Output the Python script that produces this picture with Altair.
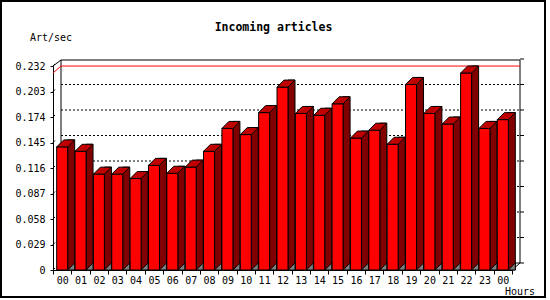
import json
import altair as alt
import pandas as pd

# ---- data ----
HOURS = ["00", "01", "02", "03", "04", "05", "06", "07", "08", "09", "10", "11",
         "12", "13", "14", "15", "16", "17", "18", "19", "20", "21", "22", "23", "00"]
VALUES = [0.140, 0.135, 0.109, 0.109, 0.104, 0.119, 0.110, 0.117, 0.135, 0.161,
          0.154, 0.179, 0.208, 0.178, 0.176, 0.189, 0.150, 0.159, 0.143, 0.211,
          0.178, 0.166, 0.224, 0.161, 0.171]
Y_TICKS = [0, 0.029, 0.058, 0.087, 0.116, 0.145, 0.174, 0.203, 0.232]
Y_MAX = 0.232
TITLE = "Incoming articles"
Y_LABEL = "Art/sec"
X_LABEL = "Hours"

FONT = "DejaVu Sans Mono"
W, H = 459, 204
PAD = {"left": 53, "top": 66, "right": 550 - 53 - W, "bottom": 300 - 66 - H}

bars = pd.DataFrame({"i": list(range(len(VALUES))), "value": VALUES})
ticks = pd.DataFrame({"v": Y_TICKS})
inner_ticks = pd.DataFrame({"v": Y_TICKS[1:-1]})
one = pd.DataFrame({"t": [""]})

xscale = alt.Scale(type="band", paddingInner=0, paddingOuter=0)
yscale = alt.Scale(domain=[0, Y_MAX], nice=False, zero=True)

X_AXIS = alt.Axis(
    title=None, labelExpr=json.dumps(HOURS) + "[datum.value]", tickBand="extent",
    tickSize=4, labelPadding=1, labelAngle=0, domainColor="black", tickColor="black",
    labelColor="black", labelFont=FONT, labelFontSize=10)
Y_AXIS = alt.Axis(
    title=None, values=Y_TICKS,
    labelExpr="datum.value == 0 ? '0' : format(datum.value, '.3f')",
    tickSize=3, labelPadding=5, grid=False, domainColor="black", tickColor="black",
    labelColor="black", labelFont=FONT, labelFontSize=10)


def X():
    return alt.X("i:O", scale=xscale, axis=X_AXIS)


def Y(field):
    return alt.Y(field, scale=yscale, axis=Y_AXIS, stack=None)


# back wall outline
wall = alt.Chart(one).mark_rect(fillOpacity=0, stroke="black", strokeWidth=1).encode(
    x=alt.value(8), x2=alt.value(467), y=alt.value(-6), y2=alt.value(197))

# dotted gridlines on the back wall
grid = alt.Chart(inner_ticks).mark_rule(color="black", strokeDash=[2, 2], yOffset=-7).encode(
    y=Y("v:Q"), x=alt.value(8), x2=alt.value(467))

# small ticks on right side of back wall
rticks = alt.Chart(ticks).mark_rule(color="black", yOffset=-7).encode(
    y=Y("v:Q"), x=alt.value(467), x2=alt.value(471))

# depth ticks at left axis
lticks = alt.Chart(ticks).mark_rule(color="black", y2Offset=-2).encode(
    y=Y("v:Q"), y2="v:Q", x=alt.value(0), x2=alt.value(2))

# max line
red = alt.Chart(bars).transform_aggregate(vmax="max(value)").mark_rule(
    color="#FF0000", yOffset=-7).encode(
    y=Y("vmax:Q"), x=alt.value(8), x2=alt.value(467))
red_diag = alt.Chart(bars).transform_aggregate(vmax="max(value)").mark_rule(
    color="#FF0000", y2Offset=-7).encode(
    y=Y("vmax:Q"), y2="vmax:Q", x=alt.value(0), x2=alt.value(8))

# corner diagonals
diag_tl = alt.Chart(one).mark_rule(color="black").encode(
    x=alt.value(0), x2=alt.value(8), y=alt.value(0), y2=alt.value(-6))
diag_br = alt.Chart(one).mark_rule(color="black").encode(
    x=alt.value(W), x2=alt.value(467), y=alt.value(H), y2=alt.value(197))

# 3D bars
side = alt.Chart(bars).mark_bar(width=7, xOffset=9, yOffset=-7, y2Offset=0,
                                color="#800000", stroke="black", strokeWidth=1).encode(
    x=X(), y=Y("value:Q"))

front = alt.Chart(bars).mark_bar(width=11, color="#FF0000", stroke="black", strokeWidth=1).encode(
    x=X(), y=Y("value:Q"))

top = alt.Chart(bars).mark_point(
    shape="M -5.5 0 L 5.5 0 L 12.5 -7 L 1.5 -7 Z", size=4, filled=True,
    fill="#C00000", stroke="black", strokeWidth=1, opacity=1).encode(x=X(), y=Y("value:Q"))

floor = alt.Chart(bars).transform_calculate(base="0").mark_point(
    shape="M 5.5 0 L 12.5 -7 L 12.5 0 Z", size=4, filled=True,
    fill="#808080", stroke="black", strokeWidth=1, opacity=1).encode(
    x=X(), y=Y("base:Q"))

# texts
title = alt.Chart(pd.DataFrame({"t": [TITLE]})).mark_text(
    font=FONT, fontSize=11.5, fontWeight="bold", align="center", baseline="alphabetic",
    color="black").encode(text="t:N", x=alt.value(220.5), y=alt.value(-35))
ylab = alt.Chart(pd.DataFrame({"t": [Y_LABEL]})).mark_text(
    font=FONT, fontSize=10, align="left", baseline="alphabetic", color="black").encode(
    text="t:N", x=alt.value(-23), y=alt.value(-25))
xlab = alt.Chart(pd.DataFrame({"t": [X_LABEL]})).mark_text(
    font=FONT, fontSize=10, align="left", baseline="alphabetic", color="black").encode(
    text="t:N", x=alt.value(452), y=alt.value(229))

border = alt.Chart(one).mark_rect(fillOpacity=0, stroke="black", strokeWidth=2).encode(
    x=alt.value(-52), x2=alt.value(492), y=alt.value(-65), y2=alt.value(231))

chart = alt.layer(
    wall, grid, rticks, lticks, red, red_diag, diag_tl, diag_br,
    side, front, top, floor, title, ylab, xlab, border
).properties(
    width=W, height=H,
    autosize=alt.AutoSizeParams(type="none"),
    padding=PAD,
    background="white",
).configure_view(strokeWidth=0)

chart.save("out.html", embed_options={"renderer": "svg", "actions": False})
